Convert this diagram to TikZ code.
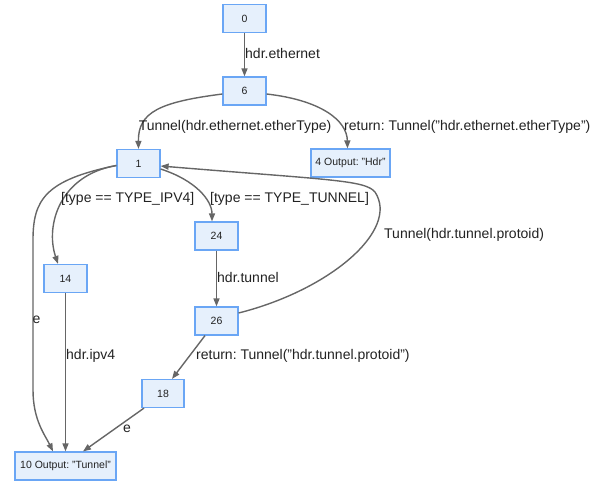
\documentclass[tikz,border=0pt]{standalone}
\usepackage{fontspec}
\setmainfont{Liberation Sans}
\usetikzlibrary{arrows.meta}
\definecolor{nfill}{HTML}{E6F0FC}
\definecolor{nline}{HTML}{6AA6F5}
\definecolor{eline}{HTML}{666666}
\definecolor{ltext}{HTML}{222222}
\begin{document}
\frenchspacing
\begin{tikzpicture}[x=1pt,y=-1pt,
 box/.style={draw=nline,fill=nfill,line width=1.2pt,minimum height=28pt,inner sep=0pt,text=ltext,font=\fontsize{10.5}{12}\selectfont},
 edge/.style={draw=eline,line width=1.4pt,-{Triangle[length=8pt,width=6pt]}},
 lbl/.style={anchor=west,inner sep=0pt,text=ltext,font=\fontsize{14}{16}\selectfont}]
\useasboundingbox (0,0) rectangle (610,482);
\node[box,minimum width=43pt] (n0) at (244.5,18.5) {0};
\node[box,minimum width=43pt] (n6) at (244.5,91) {6};
\node[box,minimum width=79pt] (n4) at (350.5,163) {4 Output: "Hdr"};
\node[box,minimum width=43pt] (n1) at (138.5,163.5) {1};
\node[box,minimum width=43pt] (n24) at (216.5,236) {24};
\node[box,minimum width=43pt] (n14) at (65.5,278.5) {14};
\node[box,minimum width=43pt] (n26) at (216.5,321) {26};
\node[box,minimum width=42pt] (n18) at (163,393.5) {18};
\node[box,minimum width=101pt] (n10) at (65.5,466) {10 Output: "Tunnel"};

\draw[edge] (n0) -- (n6);
\draw[edge] ([yshift=-3pt]n6.west) .. controls (160,102) and (138,112) .. (n1.north);
\draw[edge] ([yshift=-3pt]n6.east) .. controls (320,100) and (347,120) .. ([xshift=-3pt]n4.north);
\draw[edge] ([yshift=-2pt]n1.west) .. controls (60,175) and (45,225) .. ([xshift=-7.5pt]n14.north);
\draw[edge] ([yshift=-2pt]n1.west) .. controls (45,180) and (33,200) .. (33,240) -- (33,390) .. controls (33,420) and (45,435) .. ([xshift=-12.5pt]n10.north);
\draw[edge] ([yshift=-5.5pt]n1.east) .. controls (195,180) and (212,200) .. ([xshift=-4.5pt]n24.north);
\draw[edge] (n24) -- (n26);
\draw[edge] ([yshift=8pt]n26.east) .. controls (330,290) and (400,230) .. (375,192) .. controls (365,180) and (330,180) .. ([yshift=-2.5pt]n1.east);
\draw[edge] ([xshift=-11.5pt]n26.south) -- ([xshift=9pt]n18.north);
\draw[edge] ([xshift=-19pt]n18.south) -- ([xshift=17.5pt]n10.north);
\draw[edge] (n14) -- (n10);

\node[lbl] (l1) at (245,53) {hdr.ethernet};
\node[lbl,anchor=east] (l2) at (331.5,127) {Tunnel(hdr.ethernet.etherType)};
\node[lbl] (l3) at (344,127) {return: Tunnel("hdr.ethernet.etherType")};
\node[lbl] (l4) at (61,199) {[type == TYPE\_IPV4]};
\node[lbl] (l5) at (210,199) {[type == TYPE\_TUNNEL]};
\node[lbl] (l6) at (384,235) {Tunnel(hdr.tunnel.protoid)};
\node[lbl] (l7) at (217,277) {hdr.tunnel};
\node[lbl] (l8) at (196,356) {return: Tunnel("hdr.tunnel.protoid")};
\node[lbl] (l9) at (66,356) {hdr.ipv4};
\node[lbl,anchor=center] (l10) at (127,429) {e};
\node[lbl,anchor=center] (l11) at (36.5,320) {e};
\end{tikzpicture}
\end{document}
